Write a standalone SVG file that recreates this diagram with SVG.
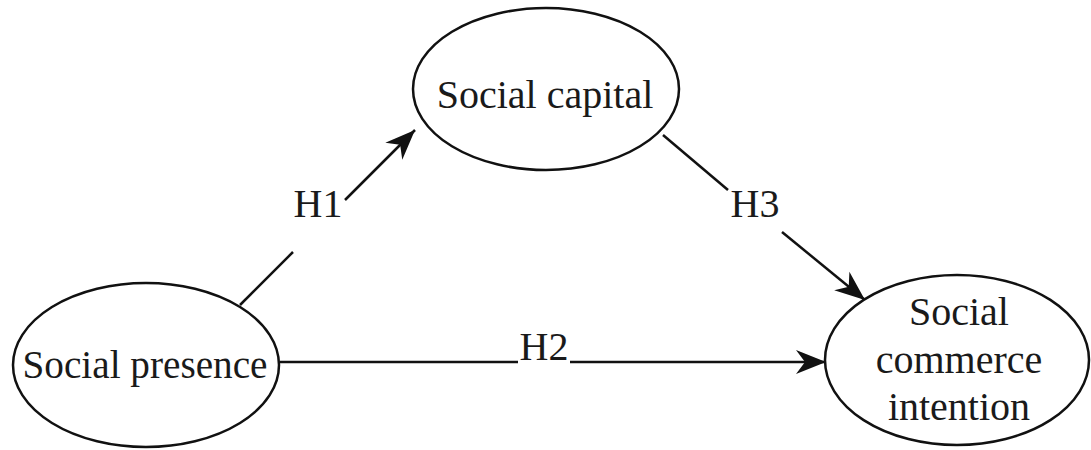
<svg xmlns="http://www.w3.org/2000/svg" width="1091" height="450" viewBox="0 0 1091 450">
<style>
.node{fill:#fff;stroke:#111;stroke-width:2.5}
.lbl{font-family:"Liberation Serif","Times New Roman",serif;font-size:40px;fill:#1a1a1a;text-anchor:middle}
.edge{stroke:#111;stroke-width:2.5;fill:none}
</style>
<defs>
<marker id="arr" markerUnits="userSpaceOnUse" markerWidth="40" markerHeight="30" viewBox="-32 -15 36 30" refX="0" refY="0" orient="auto">
<path d="M0,0 L-30,-12 L-21,0 L-30,12 Z" fill="#111"/>
</marker>
</defs>
<rect width="1091" height="450" fill="#fff"/>
<g id="connectors">
<line class="edge" x1="240" y1="305" x2="293" y2="252"/>
<line class="edge" x1="345" y1="200" x2="415" y2="130" marker-end="url(#arr)"/>
<line class="edge" x1="663" y1="135" x2="728" y2="190"/>
<line class="edge" x1="782" y1="232" x2="865" y2="300" marker-end="url(#arr)"/>
<line class="edge" x1="280" y1="362" x2="518" y2="362"/>
<line class="edge" x1="570" y1="362" x2="826" y2="362" marker-end="url(#arr)"/>
<text class="lbl" x="318" y="217">H1</text>
<text class="lbl" x="755" y="217">H3</text>
<text class="lbl" x="544" y="360">H2</text>
</g>
<g id="social-capital">
<ellipse class="node" cx="546" cy="89" rx="133" ry="81"/>
<text class="lbl" x="545" y="108">Social capital</text>
</g>
<g id="social-presence">
<ellipse class="node" cx="146" cy="365" rx="133" ry="82"/>
<text class="lbl" x="145" y="378" textLength="245" lengthAdjust="spacingAndGlyphs">Social presence</text>
</g>
<g id="social-commerce-intention">
<ellipse class="node" cx="957" cy="360" rx="132" ry="85"/>
<text class="lbl" x="959" y="325">Social</text>
<text class="lbl" x="959" y="373">commerce</text>
<text class="lbl" x="959" y="420">intention</text>
</g>
</svg>
